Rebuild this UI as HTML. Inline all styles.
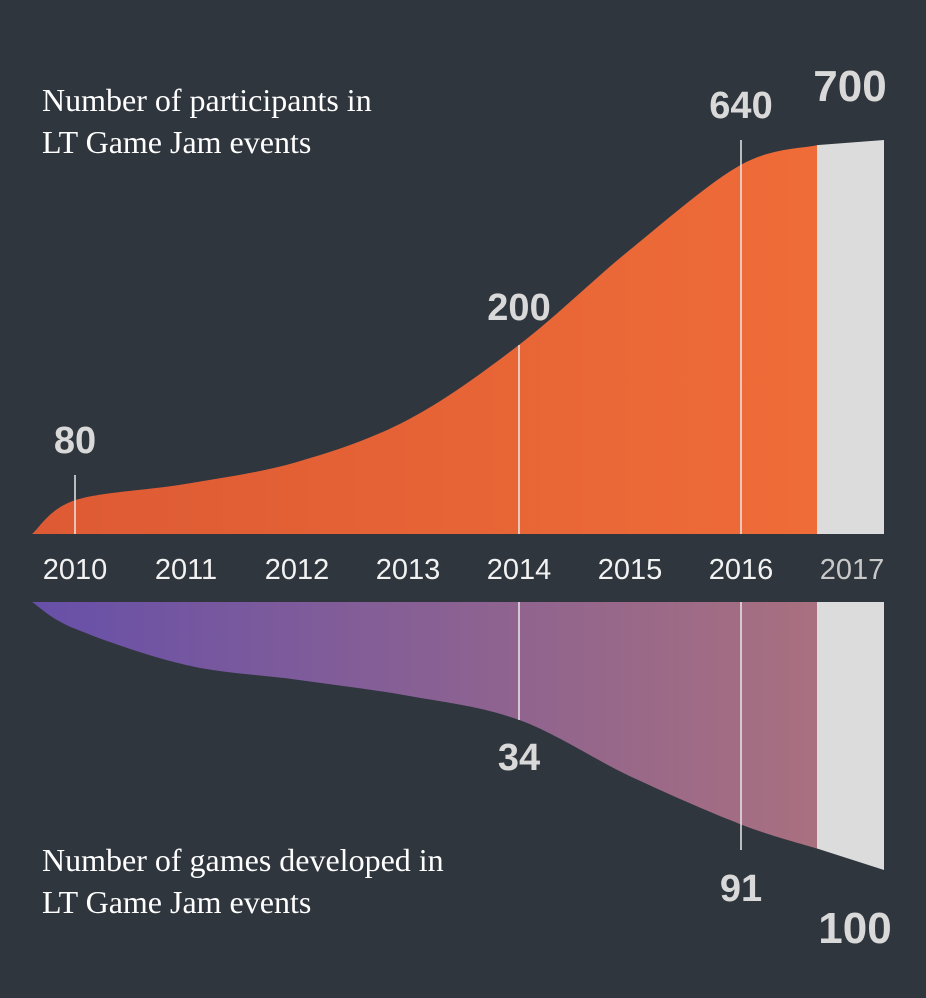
<!DOCTYPE html>
<html><head><meta charset="utf-8"><style>
html,body{margin:0;padding:0;background:#2f363d;}
svg{display:block}
.yr{font-family:"Liberation Sans Narrow","Liberation Sans",sans-serif;font-size:29px;fill:#f2f2f2;text-anchor:middle}
.val{font-family:"Liberation Sans Narrow","Liberation Sans",sans-serif;font-weight:bold;fill:#d9d9d9;text-anchor:middle}
.ttl{font-family:"Liberation Serif",serif;font-size:32px;fill:#ffffff}
</style></head><body>
<svg id="chart" width="926" height="998">
<defs>
<linearGradient id="og" x1="0" x2="1" y1="0" y2="0"><stop offset="0" stop-color="#dd5a34"/><stop offset="1" stop-color="#ef6c38"/></linearGradient>
<linearGradient id="pg" x1="0" x2="1" y1="0" y2="0"><stop offset="0" stop-color="#6750a9"/><stop offset="1" stop-color="#a9707f"/></linearGradient>
</defs>
<text class="ttl" x="42" y="111">Number of participants in</text>
<text class="ttl" x="42" y="153">LT Game Jam events</text>
<text class="ttl" x="42" y="871">Number of games developed in</text>
<text class="ttl" x="42" y="913">LT Game Jam events</text>
</svg>
<script>
const years=["2010","2011","2012","2013","2014","2015","2016","2017"];
const participantsCurve=[0,60,89,128,203,336,505,656,691];
const gamesCurve=[0,10,23.5,29,35,44,65,83,92];
const participantsLabels=[[0,80],[4,200],[6,640],[7,700]];
const gamesLabels=[[4,34],[6,91],[7,100]];
const participantsEnd=[691,700];
const gamesEnd=[92,100];

const svg=document.getElementById('chart');
const NS='http://www.w3.org/2000/svg';
const x=i=>75+i*111;
const xStart=32, xCut=817, xEnd=884;
const topBase=534, topScale=394/700;
const botBase=602, botScale=268/100;
const yTop=v=>topBase-v*topScale;
const yBot=v=>botBase+v*botScale;
function mk(t,a,parent){const e=document.createElementNS(NS,t);for(const k in a)e.setAttribute(k,a[k]);(parent||svg).appendChild(e);return e;}
function curvePts(arr,yf){const xs=[xStart,x(0),x(1),x(2),x(3),x(4),x(5),x(6),xCut];return arr.map((v,i)=>[xs[i],yf(v)]);}
function smooth(p){let d='M'+p[0][0]+','+p[0][1];for(let i=0;i<p.length-1;i++){const p0=p[i-1]||p[i],p1=p[i],p2=p[i+1],p3=p[i+2]||p2;
const c1=[p1[0]+(p2[0]-p0[0])/6,p1[1]+(p2[1]-p0[1])/6],c2=[p2[0]-(p3[0]-p1[0])/6,p2[1]-(p3[1]-p1[1])/6];
d+=' C'+c1[0]+','+c1[1]+' '+c2[0]+','+c2[1]+' '+p2[0]+','+p2[1];}return d;}

const tp=curvePts(participantsCurve,yTop);
const a1=mk('path',{d:smooth(tp)+' L'+xCut+','+topBase+' L'+xStart+','+topBase+' Z',fill:'url(#og)'});


const g1=mk('polygon',{points:`${xCut},${topBase} ${xEnd},${topBase} ${xEnd},${yTop(participantsEnd[1])} ${xCut},${yTop(participantsEnd[0])}`,fill:'#dcdcdc'});



const bp=curvePts(gamesCurve,yBot);
const a2=mk('path',{d:smooth(bp)+' L'+xCut+','+botBase+' L'+xStart+','+botBase+' Z',fill:'url(#pg)'});


const g2=mk('polygon',{points:`${xCut},${botBase} ${xEnd},${botBase} ${xEnd},${yBot(gamesEnd[1])} ${xCut},${yBot(gamesEnd[0])}`,fill:'#dcdcdc'});



years.forEach((y,i)=>{const t=mk('text',{class:'yr',x:x(i),y:579});if(i==7)t.style.fill='#c8c8c8';t.textContent=y;

});

participantsLabels.forEach(([i,v])=>{
  const big=i==7;const lx=big?850:x(i);
  if(!big){const l=mk('line',{x1:lx,x2:lx,y1:140,y2:topBase,stroke:'#e8e8e8','stroke-width':1.5});
  if(i==0)l.setAttribute('y1',475);else if(i==4)l.setAttribute('y1',345);
  
  }
  const ly=i==0?453:i==4?320:i==6?118:101;
  const t=mk('text',{class:'val',x:lx,y:ly,'font-size':big?44:38});t.textContent=v;
  
  
});
gamesLabels.forEach(([i,v])=>{
  const big=i==7;const lx=big?855:x(i);
  if(!big){const l=mk('line',{x1:lx,x2:lx,y1:botBase,y2:i==4?720:850,stroke:'#e8e8e8','stroke-width':1.5});
  
  }
  const ly=i==4?770:i==6?901:943;
  const t=mk('text',{class:'val',x:lx,y:ly,'font-size':big?44:38});t.textContent=v;
  
  
});
</script>
</body></html>
